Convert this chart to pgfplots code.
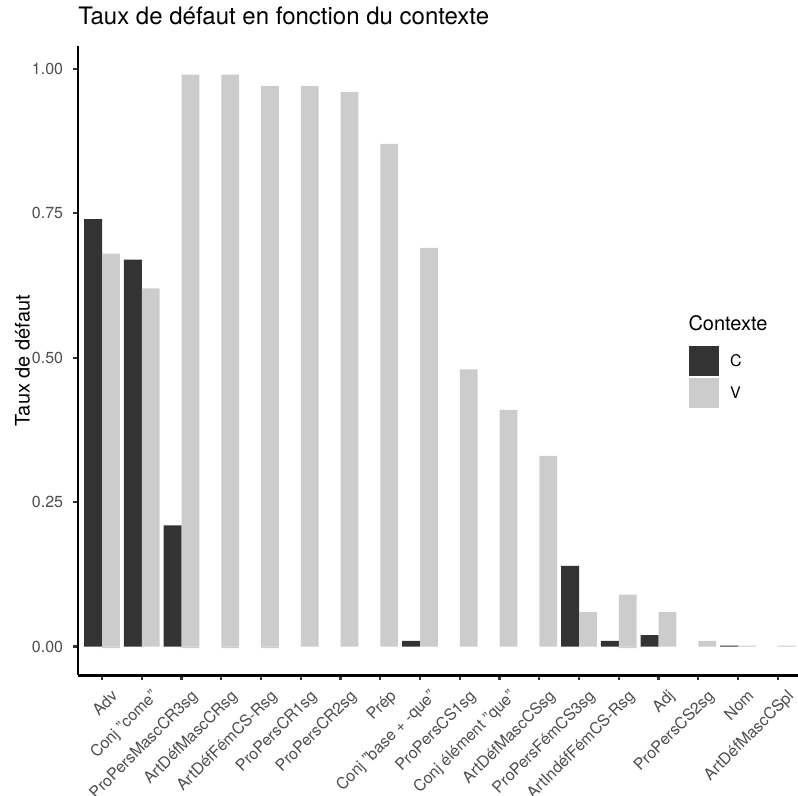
\documentclass[border=0pt]{standalone}
\usepackage{pgfplots}
\pgfplotsset{compat=1.18}
\usepackage{fontspec}
\setmainfont{TeX Gyre Heros}
\definecolor{cC}{HTML}{333333}
\definecolor{cV}{HTML}{CCCCCC}
\definecolor{tickgrey}{HTML}{4D4D4D}
\begin{document}
\begin{tikzpicture}
\begin{axis}[
  scale only axis, width=719.5bp, height=629.3bp,
  xmin=-0.6, xmax=17.5, ymin=-0.0495, ymax=1.0395,
  axis lines*=left,
  axis line style={line width=2.4bp, black},
  tick align=outside,
  major tick length=5bp,
  tick style={line width=2.4bp, color=cC},
  xtick={0,...,17},
  xticklabels={Adv, Conj "come", ProPersMascCR3sg, ArtDéfMascCRsg, ArtDéfFémCS-Rsg, ProPersCR1sg, ProPersCR2sg, Prép, Conj "base + -que", ProPersCS1sg, Conj élément "que", ArtDéfMascCSsg, ProPersFémCS3sg, ArtIndéfFémCS-Rsg, Adj, ProPersCS2sg, Nom, ArtDéfMascCSpl},
  ytick={0,0.25,0.5,0.75,1},
  yticklabels={0.00,0.25,0.50,0.75,1.00},
  tick label style={font=\fontsize{16bp}{19bp}\selectfont, text=tickgrey},
  xticklabel style={rotate=45, anchor=north east, inner sep=0pt, text height=14.5bp, text depth=3.4bp, yshift=-9bp},
  yticklabel style={anchor=east, inner sep=0pt, xshift=-9.85bp},
  ylabel={Taux de défaut},
  ylabel style={at={([xshift=-48bp]rel axis cs:0,0.5)}, rotate=0, anchor=south, inner sep=0pt, font=\fontsize{20bp}{24bp}\selectfont},
  title={Taux de défaut en fonction du contexte},
  title style={at={([yshift=15.3bp]rel axis cs:0,1)}, anchor=base west, inner sep=0pt, font=\fontsize{24bp}{29bp}\selectfont},
  legend style={at={(rel axis cs:0.849,0.5249)}, anchor=north west, draw=none, fill=none, inner sep=0pt, outer sep=0pt, row sep=0pt, font=\fontsize{16bp}{19bp}\selectfont, nodes={inner sep=0pt}},
  legend cell align=left,
]
% slight negative V overlays
\addplot[ybar, bar width=0.45, bar shift=0.225, fill=cV, draw=none, forget plot] coordinates {
 (0,-0.0025) (2,-0.0025) (3,-0.0025) (4,-0.0025) (13,-0.0025)};
\addplot[ybar, bar width=0.45, bar shift=-0.225, fill=cC, draw=none, legend image code/.code={\path[draw=none,fill=none] (0bp,-16bp) rectangle (41bp,16bp); \fill[cC] (0bp,-15bp) rectangle (30bp,15bp);}] coordinates {
 (0,0.74) (1,0.67) (2,0.21) (8,0.01) (12,0.14) (13,0.01) (14,0.02) (16,0.002)};
\addlegendentry{C}
\addplot[ybar, bar width=0.45, bar shift=0.225, fill=cV, draw=none, legend image code/.code={\path[draw=none,fill=none] (0bp,-16bp) rectangle (41bp,16bp); \fill[cV] (0bp,-15bp) rectangle (30bp,15bp);}] coordinates {
 (0,0.68) (1,0.62) (2,0.99) (3,0.99) (4,0.97) (5,0.97) (6,0.96) (7,0.87) (8,0.69)
 (9,0.48) (10,0.41) (11,0.33) (12,0.06) (13,0.09) (14,0.06) (15,0.01) (16,0.002) (17,0.002)};
\addlegendentry{V}
\node[anchor=base west, inner sep=0pt, font=\fontsize{20bp}{24bp}\selectfont] at ([xshift=-0.7bp, yshift=14.3bp]rel axis cs:0.849,0.5249) {Contexte};
\end{axis}
\pgfresetboundingbox
\useasboundingbox (-78.15bp,-120.7bp) rectangle (719.85bp,675.3bp);
\end{tikzpicture}
\end{document}
